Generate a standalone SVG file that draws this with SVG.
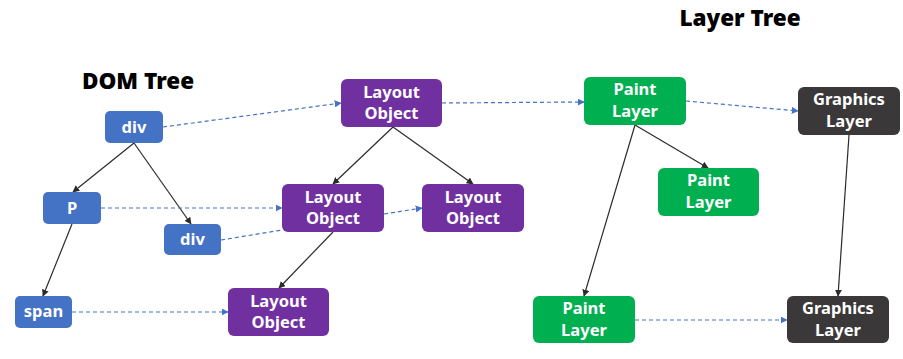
<svg xmlns="http://www.w3.org/2000/svg" width="903" height="359" viewBox="0 0 903 359">
<defs>
<marker id="ah" viewBox="0 0 10 10" refX="9" refY="5" markerWidth="7" markerHeight="7" orient="auto" markerUnits="userSpaceOnUse"><path d="M0,0 L10,5 L0,10 z" fill="#2b2b2b"/></marker>
<marker id="ab" viewBox="0 0 10 10" refX="9" refY="5" markerWidth="7" markerHeight="7" orient="auto" markerUnits="userSpaceOnUse"><path d="M0,0 L10,5 L0,10 z" fill="#4472C4"/></marker>
<style>
.t{font-family:"Noto Sans","DejaVu Sans",sans-serif;font-weight:700;font-size:16.5px;fill:#fff;text-anchor:middle}
.title{font-family:"Noto Sans","DejaVu Sans",sans-serif;font-weight:900;font-size:22.5px;fill:#000;text-anchor:middle}
.b{fill:#4472C4}.p{fill:#7030A0}.g{fill:#00B050}.k{fill:#3A3838}
.s{stroke:#2b2b2b;stroke-width:1.2;fill:none;marker-end:url(#ah)}
.d{stroke:#4472C4;stroke-width:1.2;fill:none;stroke-dasharray:4 3}
.da{marker-end:url(#ab)}
</style>
</defs>
<text class="title" x="138" y="89">DOM Tree</text>
<text class="title" x="740" y="26">Layer Tree</text>
<g id="connectors">
<line class="s" x1="134" y1="143" x2="73" y2="192"/>
<line class="s" x1="134" y1="143" x2="191" y2="224"/>
<line class="s" x1="72" y1="224" x2="43" y2="296"/>
<line class="d da" x1="163" y1="127" x2="341" y2="103"/>
<line class="d da" x1="101" y1="208" x2="282" y2="208"/>
<line class="d" x1="221" y1="240" x2="282" y2="230"/>
<line class="d da" x1="384" y1="214" x2="422" y2="208"/>
<line class="d da" x1="72" y1="312" x2="228" y2="312"/>
<line class="s" x1="393" y1="127" x2="333" y2="184"/>
<line class="s" x1="393" y1="127" x2="473" y2="184"/>
<line class="s" x1="333" y1="232" x2="279" y2="288"/>
<line class="d da" x1="442" y1="103" x2="584" y2="102"/>
<line class="d da" x1="686" y1="101" x2="798" y2="111"/>
<line class="s" x1="635" y1="125" x2="708" y2="168"/>
<line class="s" x1="635" y1="125" x2="584" y2="296"/>
<line class="s" x1="849" y1="135" x2="838" y2="296"/>
<line class="d da" x1="635" y1="320" x2="787" y2="320"/>
</g>
<g id="dom-div"><rect class="b" x="105" y="111" width="58" height="32" rx="5"/><text class="t" x="134" y="133">div</text></g>
<g id="dom-p"><rect class="b" x="43" y="192" width="58" height="32" rx="5"/><text class="t" x="72" y="214">P</text></g>
<g id="dom-div2"><rect class="b" x="164" y="224" width="57" height="31" rx="5"/><text class="t" x="192.500" y="245">div</text></g>
<g id="dom-span"><rect class="b" x="15" y="296" width="57" height="32" rx="5"/><text class="t" x="43.500" y="317">span</text></g>
<g id="lo-top"><rect class="p" x="341" y="79" width="101" height="48" rx="6"/><text class="t" x="391.500" y="98">Layout</text><text class="t" x="391.500" y="119">Object</text></g>
<g id="lo-left"><rect class="p" x="282" y="184" width="102" height="48" rx="6"/><text class="t" x="333" y="203">Layout</text><text class="t" x="333" y="224">Object</text></g>
<g id="lo-right"><rect class="p" x="422" y="184" width="102" height="48" rx="6"/><text class="t" x="473" y="203">Layout</text><text class="t" x="473" y="224">Object</text></g>
<g id="lo-bottom"><rect class="p" x="228" y="288" width="101" height="48" rx="6"/><text class="t" x="278.500" y="307">Layout</text><text class="t" x="278.500" y="328">Object</text></g>
<g id="pl-top"><rect class="g" x="584" y="77" width="102" height="48" rx="6"/><text class="t" x="635" y="95">Paint</text><text class="t" x="635" y="117">Layer</text></g>
<g id="pl-mid"><rect class="g" x="658" y="168" width="101" height="48" rx="6"/><text class="t" x="708.500" y="186">Paint</text><text class="t" x="708.500" y="208">Layer</text></g>
<g id="pl-bottom"><rect class="g" x="533" y="296" width="102" height="47" rx="6"/><text class="t" x="584" y="314">Paint</text><text class="t" x="584" y="336">Layer</text></g>
<g id="gl-top"><rect class="k" x="798" y="87" width="102" height="48" rx="6"/><text class="t" x="849" y="105">Graphics</text><text class="t" x="849" y="127">Layer</text></g>
<g id="gl-bottom"><rect class="k" x="787" y="296" width="102" height="47" rx="6"/><text class="t" x="838" y="314">Graphics</text><text class="t" x="838" y="336">Layer</text></g>
</svg>
